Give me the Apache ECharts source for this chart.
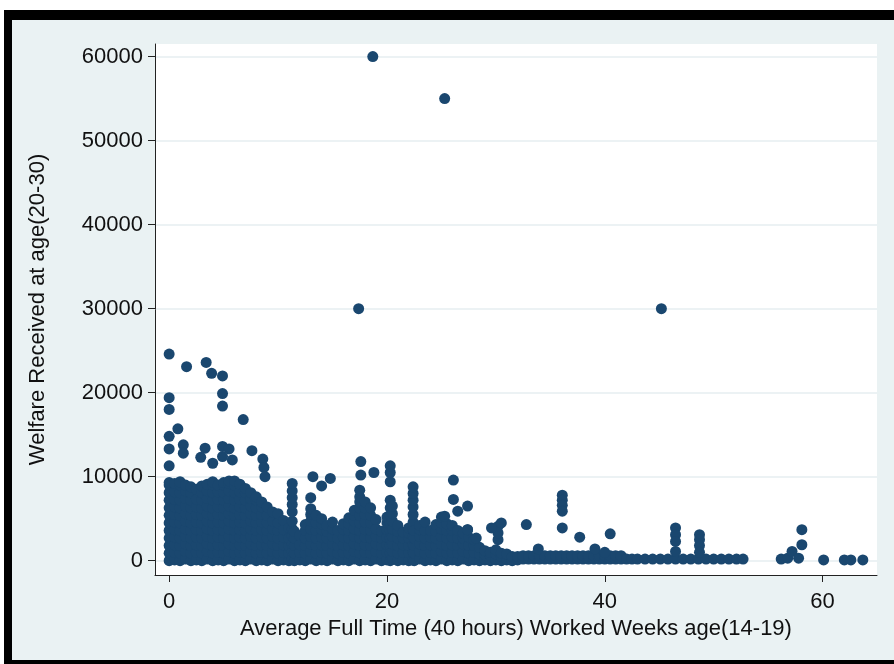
<!DOCTYPE html>
<html>
<head>
<meta charset="utf-8">
<script src="https://cdn.jsdelivr.net/npm/echarts@6/dist/echarts.min.js"></script>
<style>
html,body{margin:0;padding:0;background:#fff;width:894px;height:664px;overflow:hidden;}
#frame{position:absolute;left:4px;top:10px;width:890px;height:654px;background:#000;}
#inner{position:absolute;left:12px;top:20px;width:882px;height:640px;background:#eaf2f3;}
#chart{position:absolute;left:0;top:0;width:894px;height:664px;}
</style>
</head>
<body>
<div id="frame"></div>
<div id="inner"></div>
<div id="chart"></div>
<script>
// ---- data ----
const xTitle = "Average Full Time (40 hours) Worked Weeks age(14-19)";
const yTitle = "Welfare Received at age(20-30)";
const xTicks = [0, 20, 40, 60];
const yTicks = [0, 10000, 20000, 30000, 40000, 50000, 60000];

// dense columns (x position, welfare values observed in that column)
const colX = [0,0.5,1,1.5,2,2.5,3,3.5,4,4.5,5,5.5,6,6.5,7,7.5,8,8.5,9,9.5,10,10.5,11,11.3,11.5,12,12.5,13,13.5,14,14.5,15,15.5,16,16.5,17,17.5,18,18.5,19,19.5,20,20.3,20.5,21,21.5,22,22.4,22.5,23,23.5,24,24.5,25,25.5,26,26.1,26.5,27,27.4,27.5,28,28.5,29,29.5,30,30.2,30.5,31,31.5,32];
const colY = [
 [0,900,1800,2700,3600,4500,5400,6300,7200,8100,9000,9300],
 [100,1000,1900,2800,3700,4600,5500,6400,7300,8200,9200],
 [0,900,1800,2700,3600,4500,5400,6300,7200,8100,9000,9400],
 [200,1100,2000,2900,3800,4700,5600,6500,7400,8300,9000],
 [0,900,1800,2700,3600,4500,5400,6300,7200,8100,8800],
 [100,1000,1900,2800,3700,4600,5500,6400,7300,8500],
 [0,900,1800,2700,3600,4500,5400,6300,7200,8100,8900],
 [200,1100,2000,2900,3800,4700,5600,6500,7400,8300,9100],
 [0,900,1800,2700,3600,4500,5400,6300,7200,8100,9000,9400],
 [100,1000,1900,2800,3700,4600,5500,6400,7300,8200,9000],
 [0,900,1800,2700,3600,4500,5400,6300,7200,8100,9000,9300],
 [200,1100,2000,2900,3800,4700,5600,6500,7400,8300,9200,9500],
 [0,900,1800,2700,3600,4500,5400,6300,7200,8100,9000,9500],
 [100,1000,1900,2800,3700,4600,5500,6400,7300,8200,9100],
 [0,900,1800,2700,3600,4500,5400,6300,7200,8100,8600],
 [200,1100,2000,2900,3800,4700,5600,6500,7400,8100],
 [0,900,1800,2700,3600,4500,5400,6300,7200,7600],
 [100,1000,1900,2800,3700,4600,5500,6400,7000],
 [0,900,1800,2700,3600,4500,5400,6400],
 [200,1100,2000,2900,3800,4700,5800],
 [0,900,1800,2700,3600,4500,5600],
 [100,1000,1900,2800,3700,4800],
 [0,900,1800,2700,3900],
 [200,1100,2000,2900,3800,4700,5800,6700,7500,8300,9200],
 [0,900,1800,2700,3500],
 [100,1000,1900,3000],
 [0,900,1800,2700,3600,4300],
 [200,1100,2000,2900,3800,4700,5500,6200,7500],
 [0,900,1800,2700,3600,4500,5400],
 [100,1000,1900,2800,3700,4400,5000],
 [0,900,1800,2700,3500,4200],
 [200,1100,2000,2900,3800,4600],
 [0,900,1800,2700,3600],
 [100,1000,1900,2800,3700,4400],
 [0,900,1800,2700,3600,4400,5100],
 [200,1100,2000,2900,3800,4700,5400,6000],
 [0,900,1800,2700,3600,4500,5400,6300,7000,7600,8400],
 [100,1000,1900,2800,3700,4600,5500,6300,7000],
 [0,900,1800,2700,3600,4500,5400,6300],
 [200,1100,2000,2900,3800,4900],
 [0,900,1800,2700,3500],
 [100,1000,1900,2800,3700,4500,5200],
 [0,900,1800,2700,3600,4500,5400,6300,7200,9400,10500,11300],
 [200,1100,2000,2900,3800,4700,5600,6500],
 [0,900,1800,2700,3500,4200],
 [100,1000,1900,2700,3400],
 [0,900,1800,2700,3300,3900],
 [100,1000,1900,2800,3700,4600,5500,6400,7200,8000,8800],
 [0,900,1800,2700,3600],
 [200,1100,2000,2900,3700,4200],
 [0,900,1800,2700,3600,4600],
 [100,1000,1900,2800,3600],
 [0,900,1800,2700,3500,4300],
 [200,1100,2000,2900,3800,4500,5200],
 [0,900,1800,2700,3600,4400],
 [100,1000,1900,2800,3600,4200],
 [7300,9600],
 [0,900,1800,2700,3600,5900],
 [200,1100,2000,2700,3300],
 [3700,6500],
 [0,900,1800,2800],
 [100,1000,1800,2500],
 [0,800,1600],
 [100,700,1200],
 [0,600,1000],
 [100,800,1300],
 [2500,3300,4100],
 [0,500,900],
 [100,800],
 [0,500],
 [100,500]
];

// low band beyond 32 weeks
const bandX = [32.5,33,33.5,34,34.5,35,35.5,36,36.5,37,37.5,38,38.5,39,39.5,40,40.5,41,41.5,42,42.5,43,43.7,44.4,45.1,45.8,46.5,47.2,47.9,48.6,49.3,50,50.7,51.4,52.1,52.7];
const bandY = [[200,600],[200,600],[200,600],[200,600],[200,600],[200,600],[200,600],[200,600],[200,600],[200,600],[200,600],[200,600],[200,600],[200,600],[200,600],[200,600],[200,600],[200,600],[200,600],[200],[200],[200],[200],[200],[200],[200],[200],[200],[200],[200],[200],[200],[200],[200],[200],[200]];

// isolated points
const outX = [18.7,25.3,17.4,45.2,0,1.6,3.4,3.9,4.9,4.9,4.9,6.8,0,0,0.8,0,0,1.3,1.3,3.3,2.9,4.0,4.9,5.5,4.9,5.8,7.6,8.6,8.7,8.8,0,13.2,14.0,14.8,17.6,17.6,18.8,32.8,33.9,36.1,36.1,36.1,36.1,36.1,37.7,39.1,40.5,40.0,46.5,46.5,46.5,46.5,48.7,48.7,48.7,48.7,56.2,56.8,57.2,57.8,58.1,58.1,60.1,62.0,62.6,63.7,29.6,30.5,25.3,27.4,28.2];
const outY = [60000,55000,30000,30000,24600,23100,23600,22300,22000,19900,18400,16800,19400,18000,15700,14800,13300,13800,12800,13400,12300,11600,13600,13300,12400,12000,13100,12100,11100,10000,11300,10000,8900,9800,11800,10200,10500,4300,1400,7800,7200,6600,5900,3900,2800,1400,3200,1000,3900,3100,2300,1100,3100,2500,1800,1000,200,300,1100,300,1900,3700,100,100,100,100,3900,4500,5300,3700,2700];

// ---- build series data ----
const points = [];
colX.forEach((x, i) => colY[i].forEach(y => points.push([x, y])));
bandX.forEach((x, i) => bandY[i].forEach(y => points.push([x, y])));
outX.forEach((x, i) => points.push([x, outY[i]]));

const FONT = '"Liberation Sans", Arial, sans-serif';
const chart = echarts.init(document.getElementById('chart'), null, {renderer: 'canvas'});
chart.setOption({
  backgroundColor: 'transparent',
  animation: false,
  grid: {
    left: 155, right: 17, top: 44, bottom: 89,
    show: true, backgroundColor: '#ffffff', borderWidth: 0,
    containLabel: false, outerBoundsMode: 'none'
  },
  xAxis: {
    type: 'value', min: -1.3, max: 65,
    name: xTitle, nameLocation: 'middle', nameGap: 34,
    nameTextStyle: {fontFamily: FONT, fontSize: 22, color: '#111'},
    axisLine: {show: true, onZero: false, lineStyle: {color: '#222', width: 1}},
    axisTick: {show: true, length: 7, customValues: xTicks, lineStyle: {color: '#222'}},
    axisLabel: {customValues: xTicks, margin: 16, fontFamily: FONT, fontSize: 22, color: '#111', formatter: v => String(v)},
    splitLine: {show: false}
  },
  yAxis: {
    type: 'value', min: -1700, max: 61500,
    name: yTitle, nameLocation: 'middle', nameGap: 106, nameRotate: 90,
    nameTextStyle: {fontFamily: FONT, fontSize: 22, color: '#111'},
    axisLine: {show: true, onZero: false, lineStyle: {color: '#222', width: 1}},
    axisTick: {show: true, length: 7, customValues: yTicks, lineStyle: {color: '#222'}},
    axisLabel: {customValues: yTicks, margin: 12, fontFamily: FONT, fontSize: 22, color: '#111', formatter: v => String(v)},
    splitLine: {show: true, lineStyle: {color: '#e6eef0', width: 1.5}}
  },
  series: [{
    type: 'scatter',
    data: points,
    symbol: 'circle',
    symbolSize: 11,
    itemStyle: {color: '#1a476f', opacity: 1},
    emphasis: {disabled: true},
    large: false
  }]
});
</script>
</body>
</html>
